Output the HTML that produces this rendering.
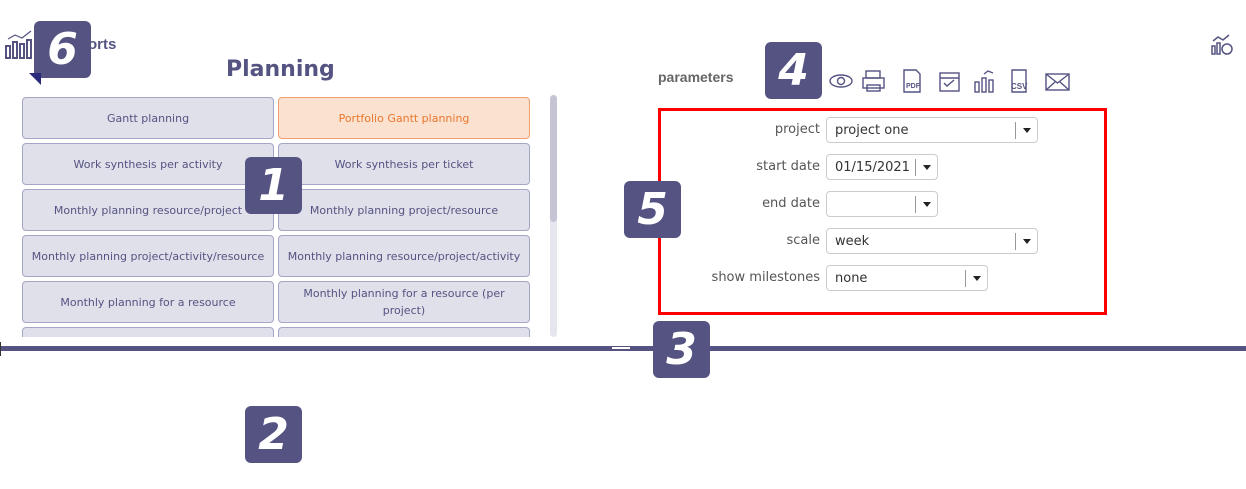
<!DOCTYPE html>
<html><head><style>
*{box-sizing:border-box;margin:0;padding:0}
body{width:1246px;height:489px;background:#fff;position:relative;overflow:hidden;font-family:"Liberation Sans","DejaVu Sans",sans-serif}
.a{position:absolute}
.btn{position:absolute;width:252px;height:42px;background:#e0e0ea;border:1px solid #a4a6c6;border-radius:4px;color:#545382;display:flex;align-items:center;justify-content:center;text-align:center;line-height:17px;padding:0 8px;font-family:"DejaVu Sans",sans-serif;font-size:11px}
.badge{position:absolute;width:57px;height:57px;background:#545382;border-radius:6px;color:#fff;font-size:44px;font-weight:bold;font-style:italic;display:flex;align-items:center;justify-content:center;font-family:"DejaVu Sans",sans-serif}
.lbl{position:absolute;right:426px;font-size:13px;color:#555;font-family:"DejaVu Sans",sans-serif}
.inp{position:absolute;left:826px;height:26px;border:1px solid #ccc;border-radius:4px;font-size:13px;color:#333;padding:5px 8px;font-family:"DejaVu Sans",sans-serif;background:#fff}
.inp i{position:absolute;right:0;top:4px;width:22px;height:17px;border-left:1px solid #999}
.inp i:after{content:"";position:absolute;left:7px;top:6px;border:4px solid transparent;border-top:5px solid #222;border-bottom:0}
</style></head><body>
<svg class="a" style="left:5px;top:30px" width="32" height="30"><g fill="none" stroke="#545382" stroke-width="2"><rect x="1" y="16" width="4" height="12"/><rect x="8" y="12" width="4" height="16"/><rect x="15" y="14" width="4" height="14"/><rect x="22" y="10" width="4" height="18"/><polyline points="3,9 10,5 17,8 26,1" stroke-width="1.2"/></g></svg>
<div class="a" style="left:88px;top:36px;font-size:15px;font-weight:bold;color:#545382">orts</div>
<div class="a" style="left:226px;top:57px;font-size:22px;font-weight:bold;color:#545382;font-family:'DejaVu Sans',sans-serif">Planning</div>
<div class="btn" style="left:22px;top:97px">Gantt planning</div>
<div class="btn" style="left:278px;top:97px;background:#fbe1d0;border-color:#f0a070;color:#e8782e">Portfolio Gantt planning</div>
<div class="btn" style="left:22px;top:143px">Work synthesis per activity</div>
<div class="btn" style="left:278px;top:143px">Work synthesis per ticket</div>
<div class="btn" style="left:22px;top:189px">Monthly planning resource/project</div>
<div class="btn" style="left:278px;top:189px">Monthly planning project/resource</div>
<div class="btn" style="left:22px;top:235px">Monthly planning project/activity/resource</div>
<div class="btn" style="left:278px;top:235px">Monthly planning resource/project/activity</div>
<div class="btn" style="left:22px;top:281px">Monthly planning for a resource</div>
<div class="btn" style="left:278px;top:281px;padding:0 20px">Monthly planning for a resource (per project)</div>
<div class="a" style="left:0;top:327px;width:560px;height:10px;overflow:hidden"><div class="btn" style="left:22px;top:0"></div><div class="btn" style="left:278px;top:0"></div></div>
<div class="a" style="left:550px;top:95px;width:7px;height:242px;background:#e6e6ee;border-radius:4px"></div>
<div class="a" style="left:550px;top:95px;width:7px;height:127px;background:#c4c4d4;border-radius:4px"></div>
<div class="a" style="left:0;top:346px;width:1246px;height:5px;background:#545382"></div>
<div class="a" style="left:0;top:342px;width:1px;height:14px;background:#333"></div>
<div class="a" style="left:612px;top:347px;width:18px;height:2px;background:#fff"></div>
<div class="a" style="left:658px;top:69px;font-size:14px;font-weight:bold;color:#666">parameters</div>
<svg class="a" style="left:828px;top:68px" width="245" height="26" fill="none" stroke="#545382" stroke-width="1.4">
<ellipse cx="13" cy="13" rx="11" ry="6"/><circle cx="13" cy="13" r="3.5"/>
<rect x="38" y="3" width="14" height="7"/><rect x="35" y="10" width="21" height="10"/><rect x="39" y="17" width="13" height="6"/>
<path d="M76 2h12l4 4v18h-16z"/><text x="78" y="20" font-size="7" font-weight="bold" fill="#545382" stroke="none" font-family="Liberation Sans">PDF</text>
<rect x="112" y="5" width="19" height="18"/><line x1="112" y1="10" x2="131" y2="10"/><path d="M116 15l3 3 7-6"/>
<rect x="147" y="14" width="4" height="10"/><rect x="154" y="10" width="4" height="14"/><rect x="161" y="12" width="4" height="12"/><path d="M156 6l4-3 5 2"/>
<path d="M184 2h14v22h-14z"/><text x="183" y="21" font-size="8" font-weight="bold" fill="#545382" stroke="none" font-family="Liberation Sans">CSV</text>
<rect x="218" y="6" width="23" height="16"/><path d="M218 6l11.5 9 11.5-9M218 22l9-8M241 22l-9-8"/>
</svg>
<svg class="a" style="left:1211px;top:34px" width="24" height="22" fill="none" stroke="#545382" stroke-width="1.5"><rect x="1" y="12" width="3" height="8"/><rect x="6" y="9" width="3" height="11"/><circle cx="16" cy="15" r="5"/><path d="M2 7l5-4 5 3 6-5"/></svg>
<div class="a" style="left:658px;top:108px;width:449px;height:207px;border:3px solid #f00"></div>
<div class="lbl" style="top:122px">project</div>
<div class="inp" style="top:117px;width:212px">project one<i></i></div>
<div class="lbl" style="top:159px">start date</div>
<div class="inp" style="top:154px;width:112px">01/15/2021<i></i></div>
<div class="lbl" style="top:196px">end date</div>
<div class="inp" style="top:191px;width:112px"><i></i></div>
<div class="lbl" style="top:233px">scale</div>
<div class="inp" style="top:228px;width:212px">week<i></i></div>
<div class="lbl" style="top:270px">show milestones</div>
<div class="inp" style="top:265px;width:162px">none<i></i></div>
<div class="badge" style="left:34px;top:21px">6</div>
<div class="a" style="left:29px;top:73px;width:0;height:0;border-left:12px solid transparent;border-top:12px solid #2a2a7a"></div>
<div class="badge" style="left:245px;top:157px">1</div>
<div class="badge" style="left:245px;top:406px">2</div>
<div class="badge" style="left:653px;top:321px">3</div>
<div class="badge" style="left:765px;top:42px">4</div>
<div class="badge" style="left:624px;top:181px">5</div>
</body></html>
